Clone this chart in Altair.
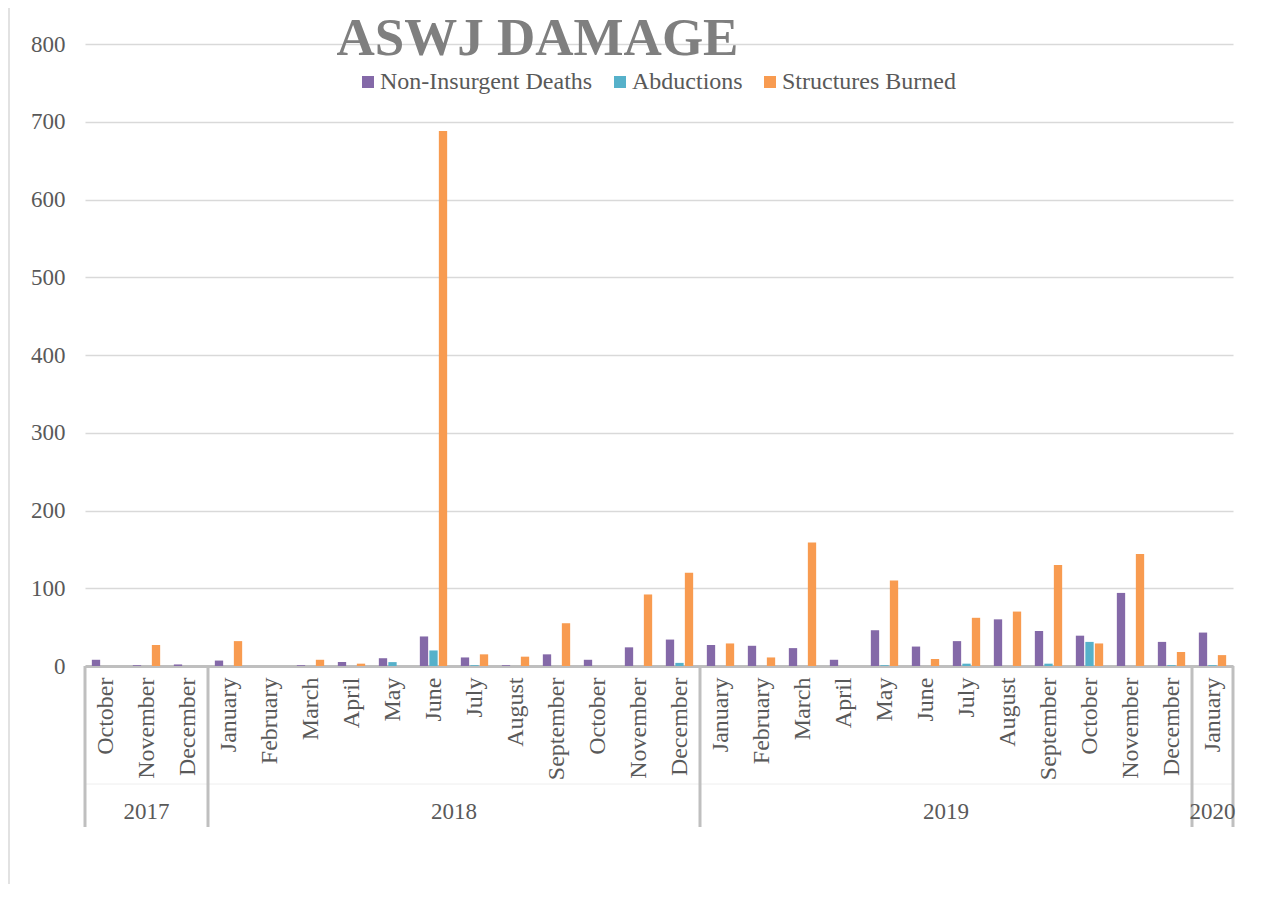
import altair as alt
import pandas as pd

# ---------------- data ----------------
months = ["October", "November", "December",
          "January", "February", "March", "April", "May", "June",
          "July", "August", "September", "October", "November", "December",
          "January", "February", "March", "April", "May", "June",
          "July", "August", "September", "October", "November", "December",
          "January"]
years = ["2017"] * 3 + ["2018"] * 12 + ["2019"] * 12 + ["2020"]

deaths = [8, 1, 2,
          7, 0, 1, 5, 10, 38, 11, 1, 15, 8, 24, 34,
          27, 26, 23, 8, 46, 25, 32, 60, 45, 39, 94, 31,
          43]
abductions = [0, 0, 0,
              0, 0, 0, 0, 5, 20, 1, 0, 0, 0, 0, 4,
              0, 0, 0, 0, 1, 0, 3, 0, 3, 31, 0, 1,
              1]
structures = [0, 27, 0,
              32, 0, 8, 3, 0, 688, 15, 12, 55, 0, 92, 120,
              29, 11, 159, 0, 110, 9, 62, 70, 130, 29, 144, 18,
              14]

series = ["Non-Insurgent Deaths", "Abductions", "Structures Burned"]
colors = ["#8469A8", "#56B1CA", "#F89B50"]
y_ticks = [0, 100, 200, 300, 400, 500, 600, 700, 800]
title_text = "ASWJ DAMAGE"

keys = [f"{m} {y}" for m, y in zip(months, years)]

rows = []
for i, k in enumerate(keys):
    for s, vals in zip(series, [deaths, abductions, structures]):
        rows.append({"key": k, "series": s, "value": vals[i]})
df = pd.DataFrame(rows)

# group boundaries (first month of each year) and year labels
sep_df = pd.DataFrame({"key": [keys[0], keys[3], keys[15], keys[27]]})
end_df = pd.DataFrame({"key": [keys[27]]})
year_mid_df = pd.DataFrame({"key": [keys[1], keys[27]], "year": ["2017", "2020"]})
year_edge_df = pd.DataFrame({"key": [keys[9], keys[21]], "year": ["2018", "2019"]})
one = pd.DataFrame({"t": [title_text]})

W, H = 1148, 622
FONT = "Liberation Serif"
GREY = "#595959"

xsort = keys
xscale = alt.Scale(paddingInner=0, paddingOuter=0)

border = alt.Chart(one).mark_rect(fillOpacity=0, stroke="#d9d9d9", strokeWidth=1.5).encode(
    x=alt.value(-76), x2=alt.value(W + 200), y=alt.value(-38), y2=alt.value(H + 400)
)

bars = alt.Chart(df).mark_bar().encode(
    x=alt.X("key:N", sort=xsort, scale=xscale, title=None,
            axis=alt.Axis(labelExpr="split(datum.label, ' ')[0]", labelAngle=270,
                          labelFont=FONT, labelFontSize=24, labelColor=GREY,
                          labelPadding=11, ticks=False, grid=False,
                          domainColor="#bfbfbf", domainWidth=3)),
    xOffset=alt.XOffset("series:N", sort=series,
                        scale=alt.Scale(paddingInner=0.126, paddingOuter=0.72)),
    y=alt.Y("value:Q", scale=alt.Scale(domain=[0, 800], nice=False), title=None,
            axis=alt.Axis(values=y_ticks, labelFont=FONT, labelFontSize=23,
                          labelColor=GREY, labelPadding=20, ticks=False,
                          domain=False, gridColor="#d9d9d9", gridWidth=1.5)),
    color=alt.Color("series:N", sort=series,
                    scale=alt.Scale(domain=series, range=colors),
                    legend=alt.Legend(title=None, orient="none", legendX=271, legendY=26,
                                      direction="horizontal", symbolType="square",
                                      symbolSize=144, symbolStrokeWidth=0,
                                      labelFont=FONT, labelFontSize=24, labelColor=GREY,
                                      labelLimit=600, labelOffset=0, columnPadding=15,
                                      padding=0)),
)

seps = alt.Chart(sep_df).mark_rule(color="#bfbfbf", strokeWidth=3).encode(
    x=alt.X("key:N", sort=xsort, bandPosition=0),
    y=alt.value(H), y2=alt.value(H + 161),
)
seps_end = alt.Chart(end_df).mark_rule(color="#bfbfbf", strokeWidth=3).encode(
    x=alt.X("key:N", sort=xsort, bandPosition=1),
    y=alt.value(H), y2=alt.value(H + 161),
)
hline = alt.Chart(one).mark_rule(color="#eeeeee", strokeWidth=1).encode(
    x=alt.value(0), x2=alt.value(W), y=alt.value(H + 118)
)

year_mid = alt.Chart(year_mid_df).mark_text(font=FONT, fontSize=23, color=GREY,
                                             baseline="middle").encode(
    x=alt.X("key:N", sort=xsort, bandPosition=0.5),
    y=alt.value(H + 146), text="year:N",
)
year_edge = alt.Chart(year_edge_df).mark_text(font=FONT, fontSize=23, color=GREY,
                                               baseline="middle").encode(
    x=alt.X("key:N", sort=xsort, bandPosition=0),
    y=alt.value(H + 146), text="year:N",
)

title = alt.Chart(one).mark_text(font=FONT, fontSize=53, fontWeight="bold",
                                  color="#7f7f7f", baseline="middle", align="center").encode(
    x=alt.value(537.5 - 85), y=alt.value(38.5 - 44), text="t:N"
)

chart = alt.layer(border, hline, bars, seps, seps_end, year_mid, year_edge, title).properties(
    width=W, height=H,
    autosize=alt.AutoSizeParams(type="none"),
    padding={"left": 77, "top": 36, "right": 15, "bottom": 218},
    background="white",
).configure_view(stroke=None)

chart.save("out.html", embed_options={"renderer": "svg", "actions": False})
